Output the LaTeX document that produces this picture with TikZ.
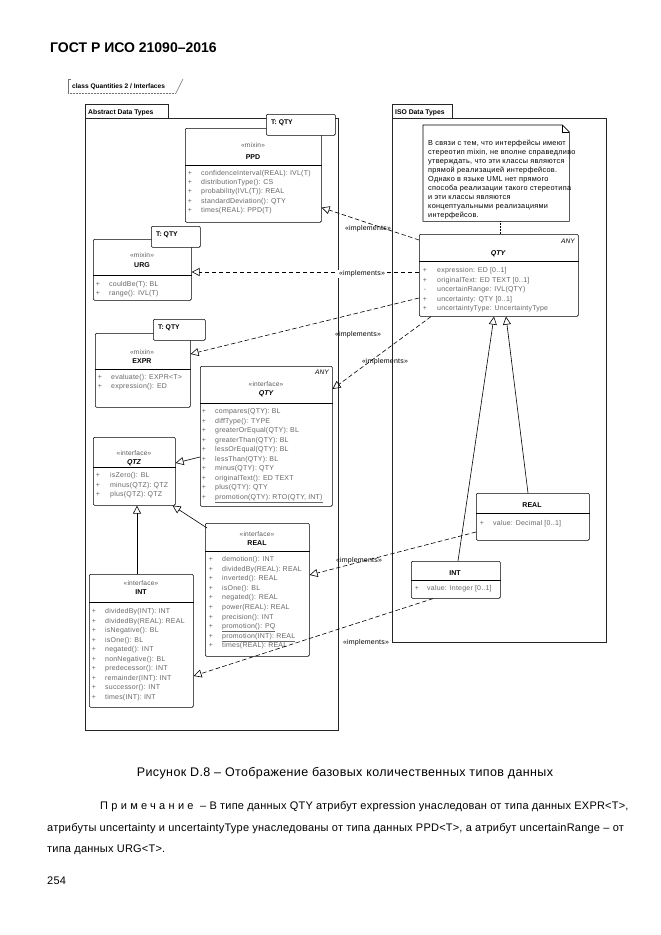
\documentclass[tikz,border=0pt]{standalone}
\usepackage{fontspec}
\setmainfont{Liberation Sans}
\usetikzlibrary{arrows.meta,calc}

\tikzset{
	pkgline/.style={draw=black!85, line width=0.6pt},
	classbox/.style={draw=black, line width=0.6pt, rounded corners=1.2pt, fill=white, inner sep=0pt, anchor=north west},
	attrtext/.style={font=\fontsize{7}{8}\selectfont\addfontfeature{LetterSpace=3}, text=black!60, inner sep=0pt, anchor=base west},
	plustext/.style={font=\fontsize{7}{8}\selectfont, text=black!60, inner sep=0pt, anchor=base},
	stereotext/.style={font=\fontsize{6.6}{7}\selectfont\addfontfeature{LetterSpace=3}, text=black!65, inner sep=0pt, anchor=base},
	nametext/.style={font=\bfseries\fontsize{7}{8}\selectfont, inner sep=0pt, anchor=base},
	tmpltext/.style={font=\bfseries\fontsize{6.8}{8}\selectfont, inner sep=0pt, anchor=base west},
	impline/.style={line width=0.6pt, dash pattern=on 4.5pt off 2.5pt, -{Triangle[open, length=8pt, width=8pt]}},
	genline/.style={line width=0.6pt, -{Triangle[open, length=8pt, width=8pt]}},
	implabel/.style={font=\fontsize{7}{8}\selectfont\addfontfeature{LetterSpace=3}, inner sep=0.6pt},
	remarktext/.style={anchor=base west, inner sep=0pt, font=\fontsize{11}{13}\selectfont\addfontfeature{LetterSpace=2}},
}

\begin{document}
\begin{tikzpicture}[x=1pt, y=-1pt]
			%%%%% START %%%%%
			\useasboundingbox[fill=white] (0,0) rectangle (661,935);
			
			\node[anchor=base west, inner sep=0pt, font=\bfseries\fontsize{14}{16}\selectfont] (gost) at (50,52) {ГОСТ Р ИСО 21090–2016};
			
			% frame
			\draw[black!55, line width=0.5pt] (71,79) -- (68,79) -- (68,93);
			\draw[black!55, line width=0.5pt, densely dotted] (68,93) -- (176,93);
			\draw[black!55, line width=0.5pt] (176,93) -- (183,79);
			\node[anchor=base west, inner sep=0pt, font=\bfseries\fontsize{6.6}{7}\selectfont] (frame) at (72,88) {class Quantities 2 / Interfaces};
			
			% packages
			\draw[pkgline] (85,104) rectangle (168,118);
			\draw[pkgline] (85,118) rectangle (338,730);
			\node[tmpltext] (pkgabs) at (88,114) {Abstract Data Types};
			\draw[pkgline] (392,104) rectangle (452,118);
			\draw[pkgline] (392,118) rectangle (606,642);
			\node[tmpltext] (pkgiso) at (395,114) {ISO Data Types};
			
			% PPD
			\node[classbox, minimum width=136pt, minimum height=94pt] (ppd) at (185,128) {};
			\node[classbox, minimum width=69pt, minimum height=21pt] (ppdt) at (266,114) {};
			\node[tmpltext] (ppdtt) at (271,124) {T: QTY};
			\node[stereotext] (ppds) at (253,147.5) {«mixin»};
			\node[nametext] (ppdn) at (253,159.5) {PPD};
			\draw[line width=0.6pt] ([yshift=-37pt]ppd.north west) -- ([yshift=-37pt]ppd.north east);
			\foreach \t [count=\i from 0] in {{confidenceInterval(REAL): IVL(T)}, {distributionType(): CS}, {probability(IVL(T)): REAL}, {standardDeviation(): QTY}, {times(REAL): PPD(T)}}{
				\node[plustext] (ppdp\i) at (190,175.5+9.2*\i) {+};
				\node[attrtext] (ppda\i) at (201,175.5+9.2*\i) {\t};
			}
			
			% URG
			\node[classbox, minimum width=98pt, minimum height=61pt] (urg) at (93,239) {};
			\node[classbox, minimum width=49pt, minimum height=21pt] (urgt) at (151,226) {};
			\node[tmpltext] (urgtt) at (156,236) {T: QTY};
			\node[stereotext] (urgs) at (142,257.5) {«mixin»};
			\node[nametext] (urgn) at (142,267.5) {URG};
			\draw[line width=0.6pt] ([yshift=-36pt]urg.north west) -- ([yshift=-36pt]urg.north east);
			\foreach \t [count=\i from 0] in {{couldBe(T): BL}, {range(): IVL(T)}}{
				\node[plustext] (urgp\i) at (98,286.5+9.2*\i) {+};
				\node[attrtext] (urga\i) at (109,286.5+9.2*\i) {\t};
			}
			
			% EXPR
			\node[classbox, minimum width=95pt, minimum height=74pt] (expr) at (95,333) {};
			\node[classbox, minimum width=52pt, minimum height=21pt] (exprt) at (153,319) {};
			\node[tmpltext] (exprtt) at (158,329) {T: QTY};
			\node[stereotext] (exprs) at (142,354.5) {«mixin»};
			\node[nametext] (exprn) at (142,363.5) {EXPR};
			\draw[line width=0.6pt] ([yshift=-36pt]expr.north west) -- ([yshift=-36pt]expr.north east);
			\foreach \t [count=\i from 0] in {{evaluate(): EXPR<T>}, {expression(): ED}}{
				\node[plustext] (exprp\i) at (100,379.5+9*\i) {+};
				\node[attrtext] (expra\i) at (111,379.5+9*\i) {\t};
			}
			
			% QTY interface
			\node[classbox, minimum width=132pt, minimum height=140pt] (qtyl) at (200,366) {};
			\node[stereotext, anchor=base east, font=\itshape\fontsize{6.6}{7}\selectfont, text=black] (qtylany) at (329,374) {ANY};
			\node[stereotext] (qtyls) at (266,386.5) {«interface»};
			\node[nametext, font=\bfseries\itshape\fontsize{7}{8}\selectfont] (qtyln) at (266,395) {QTY};
			\draw[line width=0.6pt] ([yshift=-37pt]qtyl.north west) -- ([yshift=-37pt]qtyl.north east);
			\foreach \t [count=\i from 0] in {{compares(QTY): BL}, {diffType(): TYPE}, {greaterOrEqual(QTY): BL}, {greaterThan(QTY): BL}, {lessOrEqual(QTY): BL}, {lessThan(QTY): BL}, {minus(QTY): QTY}, {originalText(): ED TEXT}, {plus(QTY): QTY}, {\underline{promotion(QTY): RTO(QTY, INT)}}}{
				\node[plustext] (qtylp\i) at (204,413.5+9.5*\i) {+};
				\node[attrtext] (qtyla\i) at (215,413.5+9.5*\i) {\t};
			}
			
			% QTZ
			\node[classbox, minimum width=82pt, minimum height=68pt] (qtz) at (93,437) {};
			\node[stereotext] (qtzs) at (134,455.5) {«interface»};
			\node[nametext, font=\bfseries\itshape\fontsize{7}{8}\selectfont] (qtzn) at (134,464) {QTZ};
			\draw[line width=0.6pt] ([yshift=-30pt]qtz.north west) -- ([yshift=-30pt]qtz.north east);
			\foreach \t [count=\i from 0] in {{isZero(): BL}, {minus(QTZ): QTZ}, {plus(QTZ): QTZ}}{
				\node[plustext] (qtzp\i) at (98,477.5+9.5*\i) {+};
				\node[attrtext] (qtza\i) at (110,477.5+9.5*\i) {\t};
			}
			
			% REAL interface
			\node[classbox, minimum width=104pt, minimum height=133pt] (reall) at (205,523) {};
			\node[stereotext] (realls) at (257,536) {«interface»};
			\node[nametext] (realln) at (257,545) {REAL};
			\draw[line width=0.6pt] ([yshift=-28pt]reall.north west) -- ([yshift=-28pt]reall.north east);
			\foreach \t [count=\i from 0] in {{demotion(): INT}, {dividedBy(REAL): REAL}, {inverted(): REAL}, {isOne(): BL}, {negated(): REAL}, {power(REAL): REAL}, {precision(): INT}, {\underline{promotion(): PQ}}, {\underline{promotion(INT): REAL}}, {times(REAL): REAL}}{
				\node[plustext] (reallp\i) at (211,561.5+9.6*\i) {+};
				\node[attrtext] (realla\i) at (222,561.5+9.6*\i) {\t};
			}
			
			% INT interface
			\node[classbox, minimum width=104pt, minimum height=133pt] (intl) at (89,574) {};
			\node[stereotext] (intls) at (141,585.5) {«interface»};
			\node[nametext] (intln) at (141,594.5) {INT};
			\draw[line width=0.6pt] ([yshift=-28pt]intl.north west) -- ([yshift=-28pt]intl.north east);
			\foreach \t [count=\i from 0] in {{dividedBy(INT): INT}, {dividedBy(REAL): REAL}, {isNegative(): BL}, {isOne(): BL}, {negated(): INT}, {nonNegative(): BL}, {predecessor(): INT}, {remainder(INT): INT}, {successor(): INT}, {times(INT): INT}}{
				\node[plustext] (intlp\i) at (94,613.5+9.5*\i) {+};
				\node[attrtext] (intla\i) at (105,613.5+9.5*\i) {\t};
			}
			
			% note
			\node[inner sep=0pt, anchor=north west, minimum width=146pt, minimum height=96pt] (note) at (423,125) {};
			\draw[line width=0.6pt, fill=white] (note.north west) -- ([xshift=-7pt]note.north east) -- ([yshift=-7pt]note.north east) -- (note.south east) -- (note.south west) -- cycle;
			\draw[line width=0.5pt] ([xshift=-7pt]note.north east) -- ([xshift=-7pt, yshift=-7pt]note.north east) -- ([yshift=-7pt]note.north east);
			\foreach \t [count=\i from 0] in {{В связи с тем, что интерфейсы имеют}, {стереотип mixin, не вполне справедливо}, {утверждать, что эти классы являются}, {прямой реализацией интерфейсов.}, {Однако в языке UML нет прямого}, {способа реализации такого стереотипа}, {и эти классы являются}, {концептуальными реализациями}, {интерфейсов.}}{
				\node[attrtext, text=black, font=\fontsize{7.3}{8}\selectfont\addfontfeature{LetterSpace=4}] (notel\i) at (428,145.5+9*\i) {\t};
			}
			
			% QTY class
			\node[classbox, minimum width=159pt, minimum height=82pt] (qtyr) at (419,234) {};
			\node[stereotext, anchor=base east, font=\itshape\fontsize{6.6}{7}\selectfont, text=black] (qtyrany) at (575,243) {ANY};
			\node[nametext, font=\bfseries\itshape\fontsize{7}{8}\selectfont] (qtyrn) at (498,255.5) {QTY};
			\draw[line width=0.6pt] ([yshift=-27pt]qtyr.north west) -- ([yshift=-27pt]qtyr.north east);
			\foreach \b/\t [count=\i from 0] in {+/{expression: ED [0..1]}, +/{originalText: ED TEXT [0..1]}, -/{uncertainRange: IVL(QTY)}, +/{uncertainty: QTY [0..1]}, +/{uncertaintyType: UncertaintyType}}{
				\node[plustext] (qtyrp\i) at (425,272.5+9.5*\i) {\b};
				\node[attrtext] (qtyra\i) at (437,272.5+9.5*\i) {\t};
			}
			\draw[line width=0.5pt, densely dotted] ([xshift=77pt]note.south west) -- ([xshift=81pt]qtyr.north west);
			
			% REAL class
			\node[classbox, minimum width=113pt, minimum height=47pt] (realr) at (476,493) {};
			\node[nametext] (realrn) at (532,507.5) {REAL};
			\draw[line width=0.6pt] ([yshift=-20pt]realr.north west) -- ([yshift=-20pt]realr.north east);
			\node[plustext] (realrp) at (482,525.5) {+};
			\node[attrtext] (realra) at (493,525.5) {value: Decimal [0..1]};
			
			% INT class
			\node[classbox, minimum width=89pt, minimum height=37pt] (intr) at (411,561) {};
			\node[nametext] (intrn) at (455,575.5) {INT};
			\draw[line width=0.6pt] ([yshift=-19pt]intr.north west) -- ([yshift=-19pt]intr.north east);
			\node[plustext] (intrp) at (417,590.5) {+};
			\node[attrtext] (intra) at (427,590.5) {value: Integer [0..1]};
			
			% realizations
			\draw[impline] ([yshift=-6pt]qtyr.north west) -- ([yshift=15pt]ppd.south east);
			\draw[impline] ([yshift=-38pt]qtyr.north west) -- ([yshift=-33pt]urg.north east);
			\draw[impline] ([yshift=-64pt]qtyr.north west) -- ([yshift=-21pt]expr.north east);
			\draw[impline] ([xshift=12pt]qtyr.south west) -- ([yshift=-23pt]qtyl.north east);
			\draw[impline] ([yshift=-39pt]realr.north west) -- ([yshift=-52pt]reall.north east);
			\draw[impline] ([xshift=22pt]intr.south west) -- ([yshift=-102pt]intl.north east);
			\node[implabel] (lba) at (368,229) {«implements»};
			\node[implabel, fill=white] (lbb) at (362,274) {«implements»};
			\node[implabel] (lbc) at (358,335) {«implements»};
			\node[implabel] (lbd) at (385,362) {«implements»};
			\node[implabel] (lbf) at (359,561) {«implements»};
			\node[implabel] (lbg) at (366,643) {«implements»};
			
			% generalizations
			\draw[genline] ([xshift=52pt]realr.north west) -- ([xshift=87pt]qtyr.south west);
			\draw[genline] ([xshift=47pt]intr.north west) -- ([xshift=75pt]qtyr.south west);
			\draw[genline] ([yshift=-91pt]qtyl.north west) -- ([yshift=-26pt]qtz.north east);
			\draw[genline] ([xshift=48pt]intl.north west) -- ([xshift=44pt]qtz.south west);
			\draw[genline] ([xshift=2pt, yshift=-5pt]reall.north west) -- ([xshift=-3pt]qtz.south east);
			
			% caption
			\node[anchor=base, inner sep=0pt, font=\fontsize{12.5}{14}\selectfont\addfontfeature{LetterSpace=3}] (caption) at (345,776) {Рисунок D.8 – Отображение базовых количественных типов данных};
			\node[remarktext] (remark1) at (100,809) {{\addfontfeature{LetterSpace=30}Примечание}\ \ – В типе данных QTY атрибут expression унаследован от типа данных EXPR<T>,};
			\node[remarktext] (remark2) at (47,831) {атрибуты uncertainty и uncertaintyType унаследованы от типа данных PPD<T>, а атрибут uncertainRange – от};
			\node[remarktext] (remark3) at (47,852) {типа данных URG<T>.};
			\node[remarktext] (pagenum) at (47,884) {254};
			%%%%% END %%%%%
\end{tikzpicture}
\end{document}
